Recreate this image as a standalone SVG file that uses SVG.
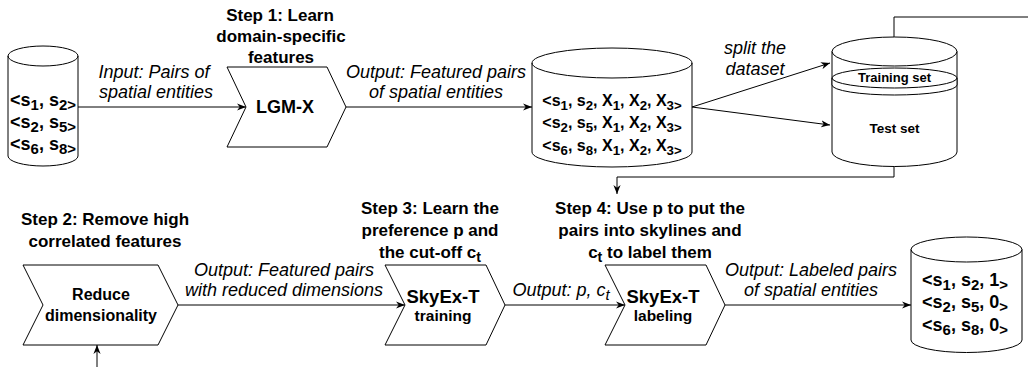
<svg xmlns="http://www.w3.org/2000/svg" width="1028" height="367" viewBox="0 0 1028 367">
<style>
.n{fill:#fff;stroke:#000;stroke-width:1}
.f{fill:none;stroke:#000;stroke-width:1}
.c{fill:none;stroke:#000;stroke-width:1}
text{font-family:"Liberation Sans",Arial,Helvetica,sans-serif;fill:#000;text-anchor:middle}
.b{font-weight:bold}
.i{font-style:italic}
.h{font-size:17px;font-weight:bold}
.l{font-size:18px;font-style:italic}
.d{font-size:18px;font-weight:bold}
.dm{font-size:16px;font-weight:bold}
.s{font-size:0.83em}
</style>
<defs>
<marker id="a" viewBox="0 0 10 8" refX="10" refY="4" markerWidth="9" markerHeight="7.2" markerUnits="userSpaceOnUse" orient="auto">
<path d="M0,0 L10,4 L0,8 L3,4 Z" fill="#000"/>
</marker>
</defs>
<rect width="1028" height="367" fill="#fff"/>

<g id="connectors">
<line class="c" x1="78" y1="107" x2="246" y2="107" marker-end="url(#a)"/>
<line class="c" x1="346" y1="107" x2="532" y2="107" marker-end="url(#a)"/>
<line class="c" x1="692" y1="107" x2="830" y2="63" marker-end="url(#a)"/>
<line class="c" x1="692" y1="107" x2="830" y2="125" marker-end="url(#a)"/>
<polyline class="c" points="894,37 894,17 1028,17"/>
<polyline class="c" points="894,166 894,177 617,177 617,194" marker-end="url(#a)"/>
<line class="c" x1="97" y1="367" x2="97" y2="345" marker-end="url(#a)"/>
<line class="c" x1="178" y1="305" x2="405" y2="305" marker-end="url(#a)"/>
<line class="c" x1="505" y1="305" x2="625" y2="305" marker-end="url(#a)"/>
<line class="c" x1="725" y1="305" x2="911" y2="305" marker-end="url(#a)"/>
<text class="l" x="154" y="78">Input: Pairs of</text>
<text class="l" x="156" y="98">spatial entities</text>
<text class="l" x="436" y="78">Output: Featured pairs</text>
<text class="l" x="436" y="98">of spatial entities</text>
<text class="l" x="755" y="54">split the</text>
<text class="l" x="755" y="75">dataset</text>
<text class="l" x="284" y="276">Output: Featured pairs</text>
<text class="l" x="284" y="296">with reduced dimensions</text>
<text class="l" x="561" y="296">Output: p, c<tspan class="s" dy="4">t</tspan></text>
<text class="l" x="811" y="276">Output: Labeled pairs</text>
<text class="l" x="811" y="296">of spatial entities</text>
</g>

<g id="input-pairs">
<path class="n" d="M8,56 A35,10 0 0 1 78,56 L78,156 A35,10 0 0 1 8,156 Z"/>
<path class="f" d="M8,56 A35,10 0 0 0 78,56"/>
<text class="d" x="43" y="106">&lt;s<tspan class="s" dy="4">1</tspan><tspan dy="-4">, s</tspan><tspan class="s" dy="4">2&gt;</tspan></text>
<text class="d" x="43" y="128">&lt;s<tspan class="s" dy="4">2</tspan><tspan dy="-4">, s</tspan><tspan class="s" dy="4">5&gt;</tspan></text>
<text class="d" x="43" y="150">&lt;s<tspan class="s" dy="4">6</tspan><tspan dy="-4">, s</tspan><tspan class="s" dy="4">8&gt;</tspan></text>
</g>

<g id="step1-label">
<text class="h" x="280" y="21">Step 1: Learn</text>
<text class="h" x="281" y="42">domain-specific</text>
<text class="h" x="281" y="63">features</text>
</g>

<g id="lgm-x">
<polygon class="n" points="227,67 327,67 346,107 327,147 227,147 246,107"/>
<text class="d" x="285" y="113">LGM-X</text>
</g>

<g id="featured-pairs">
<path class="n" d="M532,63 A80,15 0 0 1 692,63 L692,152 A80,15 0 0 1 532,152 Z"/>
<path class="f" d="M532,63 A80,15 0 0 0 692,63"/>
<text class="dm" x="612" y="106">&lt;s<tspan class="s" dy="4">1</tspan><tspan dy="-4">, s</tspan><tspan class="s" dy="4">2</tspan><tspan dy="-4">, X</tspan><tspan class="s" dy="4">1</tspan><tspan dy="-4">, X</tspan><tspan class="s" dy="4">2</tspan><tspan dy="-4">, X</tspan><tspan class="s" dy="4">3&gt;</tspan></text>
<text class="dm" x="612" y="128">&lt;s<tspan class="s" dy="4">2</tspan><tspan dy="-4">, s</tspan><tspan class="s" dy="4">5</tspan><tspan dy="-4">, X</tspan><tspan class="s" dy="4">1</tspan><tspan dy="-4">, X</tspan><tspan class="s" dy="4">2</tspan><tspan dy="-4">, X</tspan><tspan class="s" dy="4">3&gt;</tspan></text>
<text class="dm" x="612" y="151">&lt;s<tspan class="s" dy="4">6</tspan><tspan dy="-4">, s</tspan><tspan class="s" dy="4">8</tspan><tspan dy="-4">, X</tspan><tspan class="s" dy="4">1</tspan><tspan dy="-4">, X</tspan><tspan class="s" dy="4">2</tspan><tspan dy="-4">, X</tspan><tspan class="s" dy="4">3&gt;</tspan></text>
</g>

<g id="test-set">
<path class="n" d="M832,51.5 A62.5,14.5 0 0 1 957,51.5 L957,152 A62.5,14.5 0 0 1 832,152 Z"/>
<path class="f" d="M832,51.5 A62.5,14.5 0 0 0 957,51.5"/>
<text class="b" x="894.5" y="133" font-size="13.5">Test set</text>
</g>

<g id="training-set">
<path class="n" d="M832,78 A62.5,10 0 0 1 957,78 L957,85 A62.5,10 0 0 1 832,85 Z"/>
<path class="f" d="M832,78 A62.5,10 0 0 0 957,78"/>
<text class="b" x="894.5" y="82" font-size="13">Training set</text>
</g>

<g id="step2-label">
<text class="h" x="105" y="225">Step 2: Remove high</text>
<text class="h" x="105" y="247">correlated features</text>
</g>

<g id="reduce-dimensionality">
<polygon class="n" points="23,265 158,265 178,305 158,345 23,345 43,305"/>
<text class="dm" x="101" y="300">Reduce</text>
<text class="dm" x="101" y="321">dimensionality</text>
</g>

<g id="step3-label">
<text class="h" x="430" y="214">Step 3: Learn the</text>
<text class="h" x="430" y="236">preference p and</text>
<text class="h" x="430" y="258">the cut-off c<tspan class="s" dy="4">t</tspan></text>
</g>

<g id="skyex-training">
<polygon class="n" points="385,265 486,265 505,305 486,345 385,345 405,305"/>
<text class="b" x="443" y="303" font-size="18.5">SkyEx-T</text>
<text class="b" x="443" y="321" font-size="15.5">training</text>
</g>

<g id="step4-label">
<text class="h" x="650" y="214">Step 4: Use p to put the</text>
<text class="h" x="650" y="236">pairs into skylines and</text>
<text class="h" x="650" y="258">c<tspan class="s" dy="4">t</tspan><tspan dy="-4"> to label them</tspan></text>
</g>

<g id="skyex-labeling">
<polygon class="n" points="605,265 706,265 725,305 706,345 605,345 625,305"/>
<text class="b" x="663" y="303" font-size="18.5">SkyEx-T</text>
<text class="b" x="663" y="321" font-size="15.5">labeling</text>
</g>

<g id="labeled-pairs">
<path class="n" d="M911,249.5 A55.5,12.5 0 0 1 1022,249.5 L1022,340 A55.5,12.5 0 0 1 911,340 Z"/>
<path class="f" d="M911,249.5 A55.5,12.5 0 0 0 1022,249.5"/>
<text class="d" x="965" y="286">&lt;s<tspan class="s" dy="4">1</tspan><tspan dy="-4">, s</tspan><tspan class="s" dy="4">2</tspan><tspan dy="-4">, 1</tspan><tspan class="s" dy="4">&gt;</tspan></text>
<text class="d" x="965" y="308">&lt;s<tspan class="s" dy="4">2</tspan><tspan dy="-4">, s</tspan><tspan class="s" dy="4">5</tspan><tspan dy="-4">, 0</tspan><tspan class="s" dy="4">&gt;</tspan></text>
<text class="d" x="965" y="331">&lt;s<tspan class="s" dy="4">6</tspan><tspan dy="-4">, s</tspan><tspan class="s" dy="4">8</tspan><tspan dy="-4">, 0</tspan><tspan class="s" dy="4">&gt;</tspan></text>
</g>
</svg>
